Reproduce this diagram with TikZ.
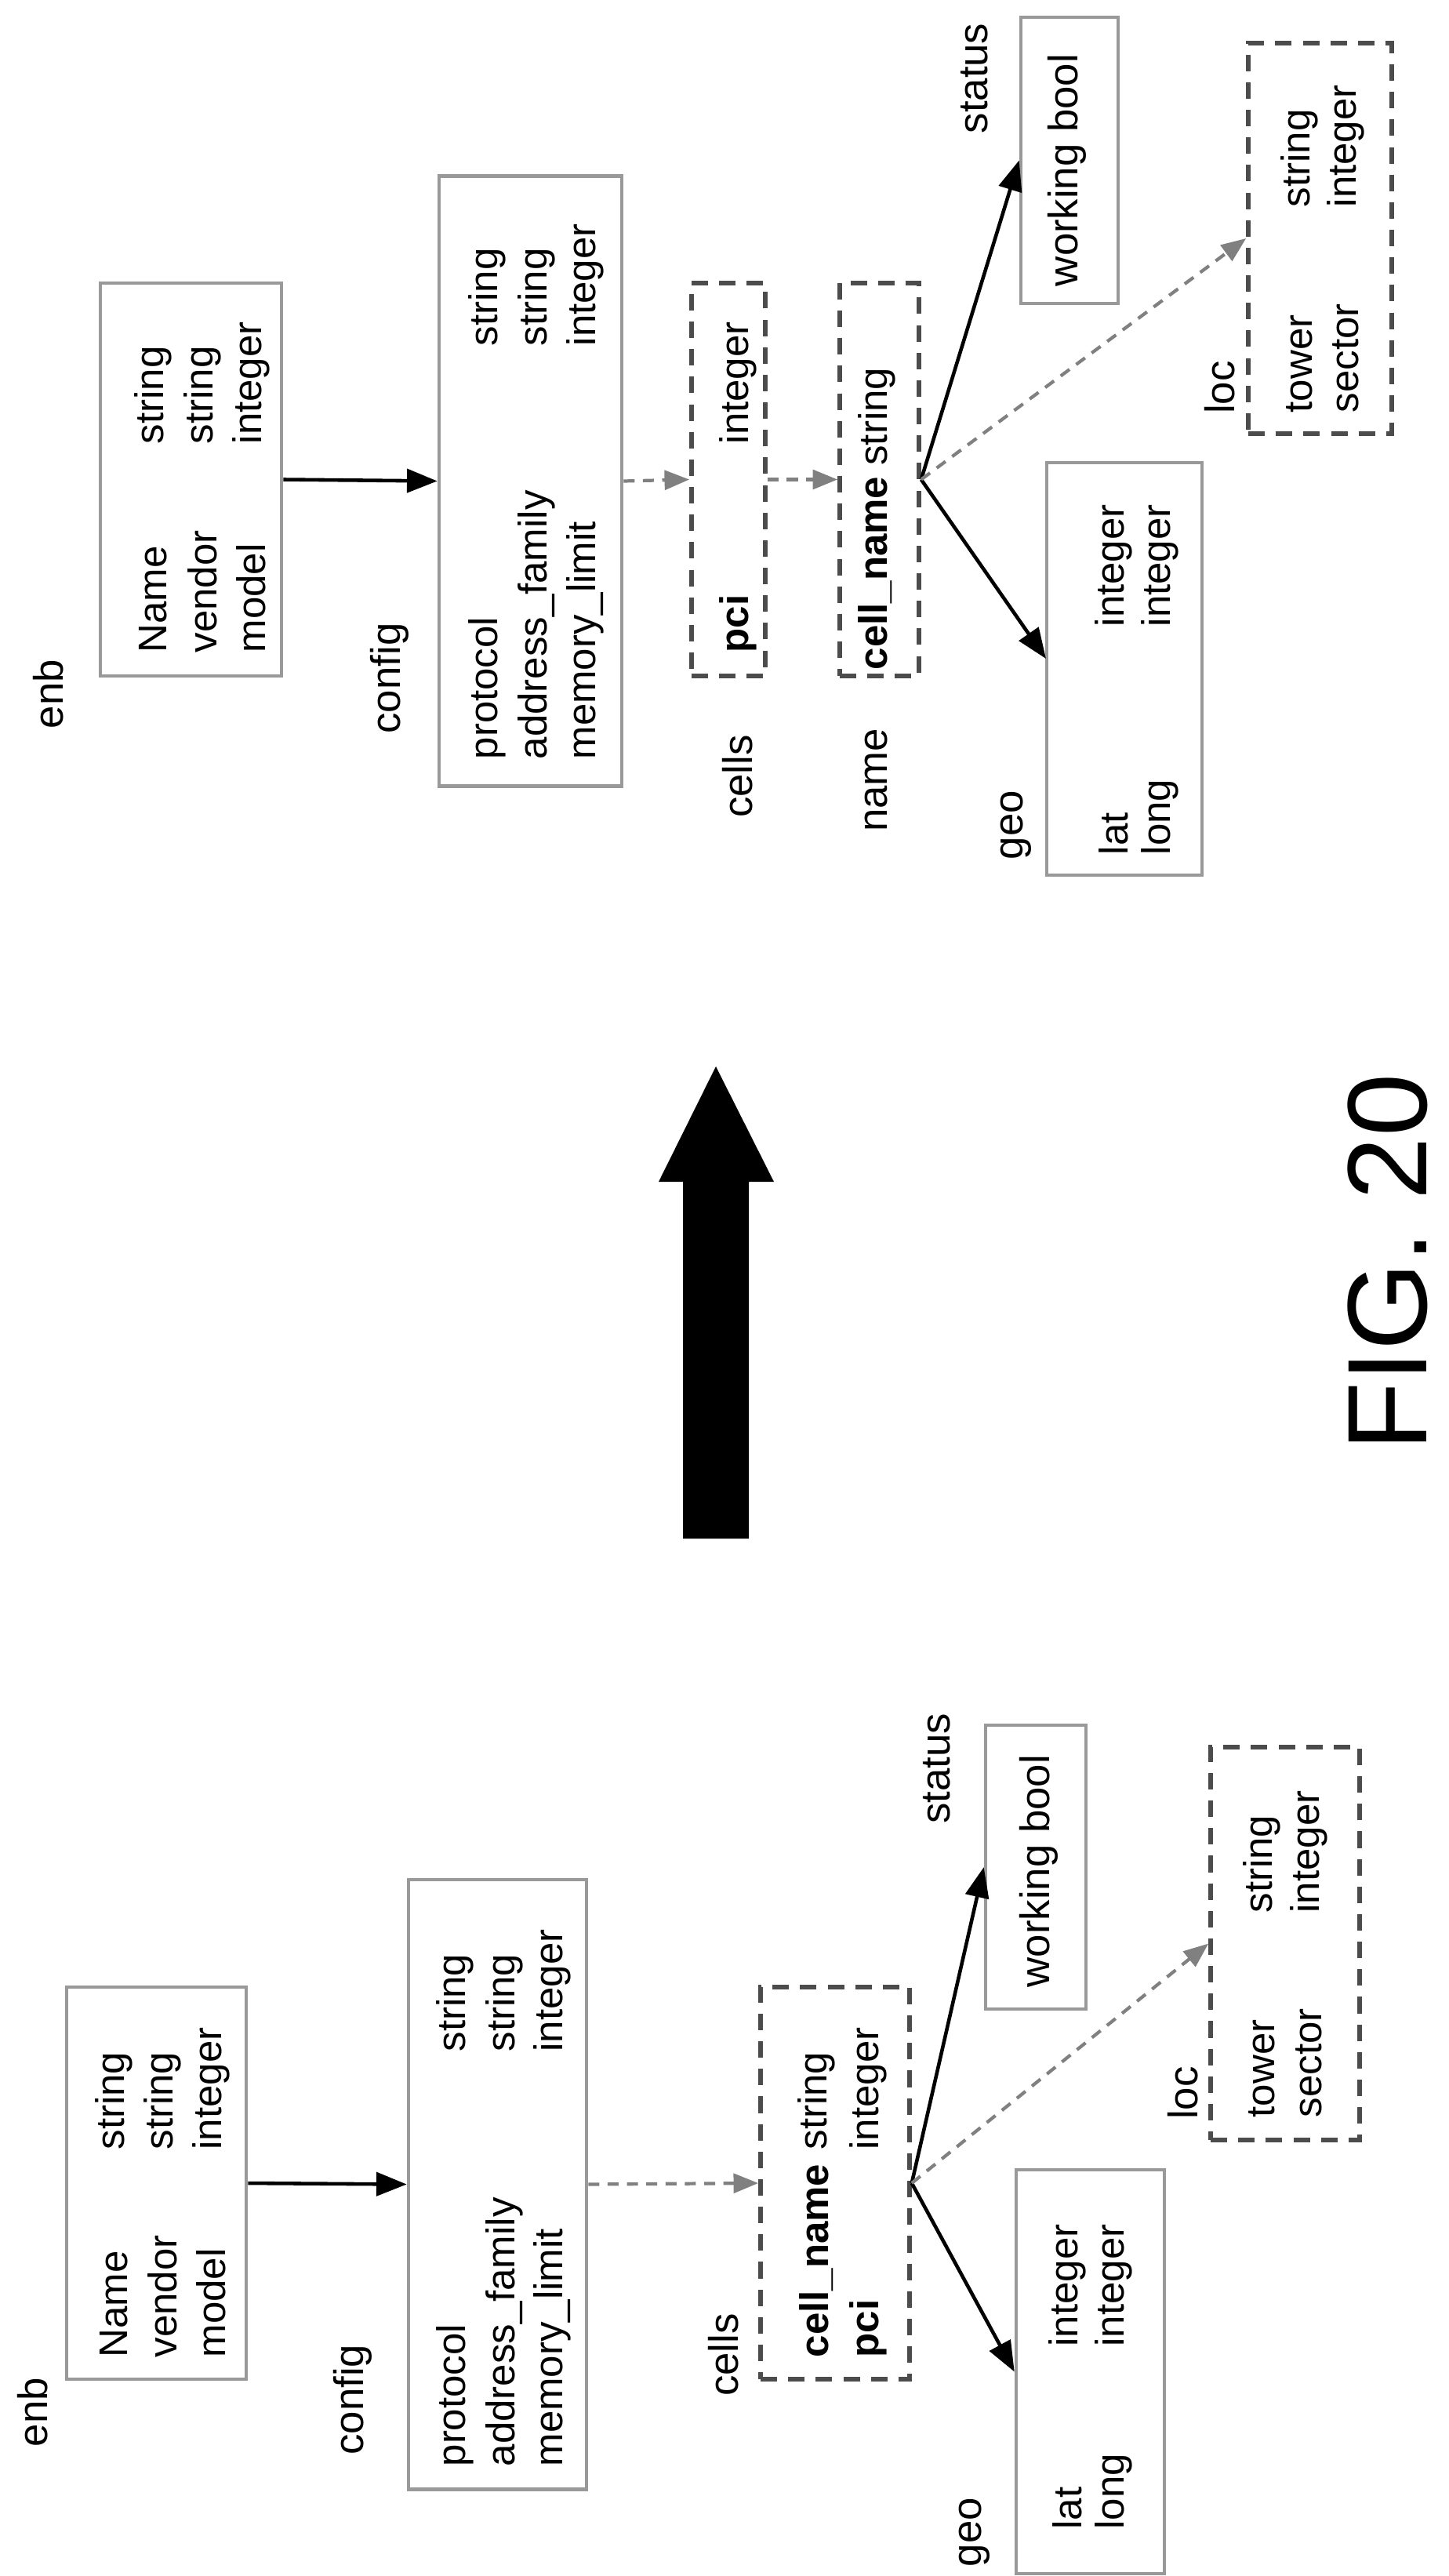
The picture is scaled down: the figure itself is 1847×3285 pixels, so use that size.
\documentclass[tikz,border=0pt]{standalone}
\usepackage{fontspec}
\setmainfont{Liberation Sans}
\usetikzlibrary{arrows.meta}
\begin{document}
\begin{tikzpicture}[x=0.01cm,y=-0.01cm,
  box/.style={draw=black!40,line width=1.3pt,inner sep=0,minimum width=#1*0.01cm},
  dbox/.style={draw=black!70,line width=1.6pt,dash pattern=on 6pt off 4pt,inner sep=0,minimum width=#1*0.01cm},
  t/.style={rotate=90,anchor=west,inner sep=0,font=\fontsize{14.5}{15}\selectfont},
  lab/.style={rotate=90,inner sep=0,font=\fontsize{15}{15}\selectfont},
  sa/.style={line width=1.3pt,-{Triangle[length=11pt,width=8.5pt]}},
  da/.style={line width=1.2pt,draw=black!50,dash pattern=on 4pt off 3pt,-{Triangle[length=9pt,width=7pt,fill=black!50]}}]
\useasboundingbox (0,0) rectangle (1847,3285);
% ---------------- top diagram ----------------
\node[box=231,minimum height=5.01cm] (enb) at (243.5,611.5) {};
\node[box=233,minimum height=7.77cm] (config) at (676.5,613.5) {};
\node[dbox=94,minimum height=5.01cm] (cells) at (929,611.5) {};
\node[dbox=101,minimum height=5.01cm] (name) at (1121.5,611.5) {};
\node[box=198,minimum height=5.26cm] (geo) at (1434,853) {};
\node[box=124,minimum height=3.65cm] (status) at (1364,204.5) {};
\node[dbox=183,minimum height=4.98cm] (loc) at (1683.5,304) {};
\coordinate (geoT) at (1334,840);
\draw[sa] (enb.east) -- (config.west);
\draw[da] (config.east) -- (cells.west);
\draw[da] (cells.east) -- (name.west);
\draw[sa] (name.east) -- (geoT);
\draw[sa] (name.east) -- (status.west);
\draw[da] (name.east) -- (loc.west);
\node[lab] (l1) at (62,885) {enb};
\node[lab] (l2) at (497,865) {config};
\node[lab] (l3) at (941,990) {cells};
\node[lab] (l4) at (1118,995) {name};
\node[lab] (l5) at (1296,1052) {geo};
\node[lab] (l6) at (1243,100) {status};
\node[lab] (l7) at (1556,494) {loc};
\node[t] (a1) at (195,833) {Name};
\node[t] (a2) at (258,833) {vendor};
\node[t] (a3) at (320,833) {model};
\node[t] (a4) at (195,567) {string};
\node[t] (a5) at (258,567) {string};
\node[t] (a6) at (320,567) {integer};
\node[t] (b1) at (621,969) {protocol};
\node[t] (b2) at (684,969) {address\_family};
\node[t] (b3) at (746,969) {memory\_limit};
\node[t] (b4) at (621,442) {string};
\node[t] (b5) at (684,442) {string};
\node[t] (b6) at (746,442) {integer};
\node[t] (c1) at (941,833) {\textbf{pci}};
\node[t] (c2) at (941,567) {integer};
\node[t] (d1) at (1118,855) {\textbf{cell\_name} string};
\node[t] (e1) at (1420,1091) {lat};
\node[t] (e2) at (1479,1091) {long};
\node[t] (e3) at (1420,800) {integer};
\node[t] (e4) at (1479,800) {integer};
\node[lab] (f1) at (1361,217) {working bool};
\node[t] (g1) at (1657,527) {tower};
\node[t] (g2) at (1716,527) {sector};
\node[t] (g3) at (1657,265) {string};
\node[t] (g4) at (1716,265) {integer};
% ---------------- big arrow ----------------
\fill[black] (871,1962) -- (871,1507) -- (840,1507) -- (913,1360) -- (987,1507) -- (955,1507) -- (955,1962) -- cycle;
\node[rotate=90,inner sep=0,font=\fontsize{41}{41}\selectfont] (fig) at (1770,1610) {FIG. 20};
% ---------------- bottom diagram ----------------
\node[box=229,minimum height=5.00cm] (enbB) at (199.5,2784) {};
\node[box=227,minimum height=7.77cm] (configB) at (634.5,2785.5) {};
\node[dbox=190,minimum height=5.00cm] (cellsB) at (1065,2784) {};
\node[box=189,minimum height=5.15cm] (geoB) at (1390.5,3024.5) {};
\node[box=128,minimum height=3.62cm] (statusB) at (1321,2381) {};
\node[dbox=190,minimum height=5.01cm] (locB) at (1639,2478.5) {};
\draw[sa] (enbB.east) -- (configB.west);
\draw[da] (configB.east) -- (cellsB.west);
\draw[sa] (cellsB.east) -- (geoB.west);
\draw[sa] (cellsB.east) -- (statusB.west);
\draw[da] (cellsB.east) -- (locB.west);
\node[lab] (m1) at (42,3076) {enb};
\node[lab] (m2) at (450,3060) {config};
\node[lab] (m3) at (923,3003) {cells};
\node[lab] (m5) at (1243,3229) {geo};
\node[lab] (m6) at (1195,2255) {status};
\node[lab] (m7) at (1509,2669) {loc};
\node[t] (p1) at (145,3007) {Name};
\node[t] (p2) at (207,3007) {vendor};
\node[t] (p3) at (269,3007) {model};
\node[t] (p4) at (145,2742) {string};
\node[t] (p5) at (207,2742) {string};
\node[t] (p6) at (269,2742) {integer};
\node[t] (q1) at (580,3146) {protocol};
\node[t] (q2) at (643,3146) {address\_family};
\node[t] (q3) at (704,3146) {memory\_limit};
\node[t] (q4) at (580,2617) {string};
\node[t] (q5) at (643,2617) {string};
\node[t] (q6) at (704,2617) {integer};
\node[t] (r1) at (1041,3007) {\textbf{cell\_name}};
\node[t] (r2) at (1107,3007) {\textbf{pci}};
\node[t] (r3) at (1041,2742) {string};
\node[t] (r4) at (1107,2742) {integer};
\node[t] (s1) at (1361,3226) {lat};
\node[t] (s2) at (1420,3226) {long};
\node[t] (s3) at (1361,2993) {integer};
\node[t] (s4) at (1420,2993) {integer};
\node[lab] (u1) at (1325,2386) {working bool};
\node[t] (v1) at (1609,2701) {tower};
\node[t] (v2) at (1669,2701) {sector};
\node[t] (v3) at (1609,2440) {string};
\node[t] (v4) at (1669,2440) {integer};
\end{tikzpicture}
\end{document}
